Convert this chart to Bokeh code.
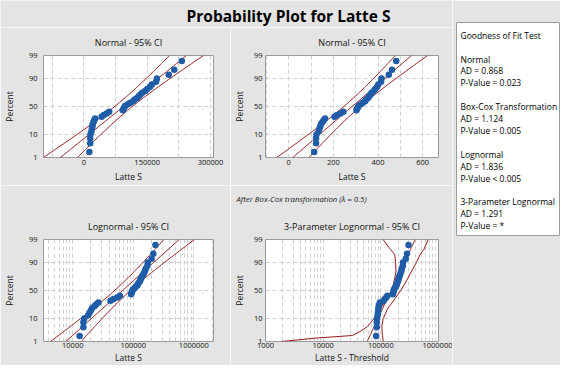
import numpy as np
from statistics import NormalDist
from bokeh.plotting import figure
from bokeh.layouts import row, column
from bokeh.models import FixedTicker, NumeralTickFormatter, Range1d, Title
from bokeh.core.properties import value
from bokeh.embed import file_html
from bokeh.resources import INLINE

# ---------------- data ----------------
latte_s = [13000, 15000, 15000, 15500, 18000, 19000, 20000, 21000, 23000, 24500, 26500,
           42000, 47000, 54000, 60000, 92000, 94000, 96000, 98000,
           104000, 110000, 117000, 120000, 126000, 130000, 134000, 138000, 145000,
           150000, 157000, 161000, 171000, 173000, 201000, 214000, 232000]
boxcox_lambda = 0.5
threshold = -70000.0

percent_ticks = [1, 10, 50, 90, 99]
percent_grid = [10, 50, 90]
x1_ticks = [0, 150000, 300000]
x1_grid = [-75000, 0, 75000, 150000, 225000, 300000]
x2_ticks = [0, 200, 400, 600]
x2_grid = [-100, 0, 100, 200, 300, 400, 500, 600]
log_ticks = [1000, 10000, 100000, 1000000]

# 3-parameter lognormal 95% CI (Latte S - Threshold)
ci_pct = [1, 1.5, 2, 3, 5, 10, 20, 30, 50, 70, 80, 90, 95, 97, 99]
lognorm3_lower = [1900, 7500, 32000, 43000, 58700, 76000, 96000, 120000,
                  157000, 173000, 183000, 180000, 174000, 146000, 109000]
lognorm3_upper = [109800, 108300, 106900, 105500, 104100, 109800, 130500, 159400,
                  222300, 290000, 335700, 415400, 481000, 560000, 662000]

gof_lines = ["Goodness of Fit Test", "",
             "Normal", "AD = 0.868", "P-Value = 0.023", "",
             "Box-Cox Transformation", "AD = 1.124", "P-Value = 0.005", "",
             "Lognormal", "AD = 1.836", "P-Value < 0.005", "",
             "3-Parameter Lognormal", "AD = 1.291", "P-Value = *"]

main_title = "Probability Plot for Latte S"
boxcox_note = "After Box-Cox transformation (\u03bb = 0.5)"

# ---------------- styles ----------------
BG = "#e4e4e4"
BLUE = "#1f5ca8"
RED = "#951b1b"
GRID = "#cfcfcf"
FRAME = "#9a9a9a"
FONT = "Open Sans"
TXT = "#111111"

ND = NormalDist()
def zq(pct):
    return ND.inv_cdf(pct / 100.0)

Z_LO, Z_HI = zq(1), zq(99)
EPS = 1e-9
Z975 = ND.inv_cdf(0.975)

data = np.sort(np.array(latte_s, dtype=float))
n = len(data)
z_pts = np.array([ND.inv_cdf((i - 0.3) / (n + 0.4)) for i in range(1, n + 1)])
z_line = np.linspace(Z_LO, Z_HI, 90)


def normal_band(t):
    m, s = t.mean(), t.std()
    c = m + z_line * s
    h = Z975 * s * np.sqrt((1 + z_line ** 2 / 2) / n)
    return c - h, c, c + h


def style_title(t, size="9px", standoff=13):
    t.align = "center"
    t.text_font = FONT
    t.text_font_size = size
    t.text_font_style = "normal"
    t.text_color = TXT
    t.standoff = standoff


def panel(title, w, h, bl, br, bt, bb, xr, xtype="linear", ylab_gap=6, ylab_standoff=11,
          xlab_gap=2, xlab_standoff=3):
    p = figure(width=w, height=h, x_range=xr, y_range=Range1d(Z_LO - EPS, Z_HI + EPS),
               x_axis_type=xtype, output_backend="svg", toolbar_location=None,
               min_border_left=bl, min_border_right=br, min_border_top=bt,
               min_border_bottom=bb)
    if title:
        p.title.text = title
        style_title(p.title)
    p.background_fill_color = "white"
    p.border_fill_color = BG
    p.outline_line_color = FRAME
    p.outline_line_width = 1
    for ax in p.axis:
        ax.axis_line_color = None
        ax.major_tick_line_color = None
        ax.minor_tick_line_color = None
        ax.major_tick_out = 0
        ax.major_tick_in = 0
        ax.minor_tick_out = 0
        ax.minor_tick_in = 0
        ax.major_label_text_font = FONT
        ax.major_label_text_font_size = "7.5px"
        ax.major_label_text_color = TXT
        ax.axis_label_text_font = FONT
        ax.axis_label_text_font_size = "8.5px"
        ax.axis_label_text_font_style = "normal"
        ax.axis_label_text_color = TXT
    p.xaxis.major_label_standoff = xlab_gap
    p.xaxis.axis_label_standoff = xlab_standoff
    p.yaxis.major_label_standoff = ylab_gap
    p.yaxis.axis_label_standoff = ylab_standoff
    p.yaxis.ticker = FixedTicker(ticks=[zq(v) for v in percent_ticks])
    p.yaxis.major_label_overrides = {zq(v): str(v) for v in percent_ticks}
    p.yaxis.axis_label = "Percent"
    p.ygrid.ticker = FixedTicker(ticks=[zq(v) for v in percent_grid])
    p.grid.grid_line_color = GRID
    p.grid.grid_line_dash = "4 3"
    p.grid.grid_line_width = 1
    p.xaxis.formatter = NumeralTickFormatter(format="0")
    return p


def draw(p, lo, c, hi, xs):
    for arr in (lo, c, hi):
        p.line(arr, z_line, line_color=RED, line_width=1)
    p.scatter(xs, z_pts, size=6.5, fill_color=BLUE, line_color=None)


log_grid = [k * 10 ** e for e in range(3, 7) for k in range(1, 10)]

# Panel 1: Normal
p1 = panel("Normal - 95% CI", 230, 158, 43, 17, 28, 28, Range1d(-95700, 307000))
p1.xaxis.ticker = FixedTicker(ticks=x1_ticks)
p1.xgrid.ticker = FixedTicker(ticks=x1_grid)
p1.xaxis.axis_label = "Latte S"
draw(p1, *normal_band(data), data)

# Panel 2: Box-Cox (lambda = 0.5)
bc = data ** boxcox_lambda
p2 = panel("Normal - 95% CI", 222, 158, 34, 14, 28, 28, Range1d(-104, 671),
           ylab_gap=3, ylab_standoff=6)
p2.xaxis.ticker = FixedTicker(ticks=x2_ticks)
p2.xgrid.ticker = FixedTicker(ticks=x2_grid)
p2.xaxis.axis_label = "Latte S"
draw(p2, *normal_band(bc), bc)

# Panel 3: Lognormal
lo3, c3, hi3 = normal_band(np.log(data))
p3 = panel("Lognormal - 95% CI", 230, 180, 43, 17, 47, 24, Range1d(3290, 2.11e6), "log",
           xlab_gap=1, xlab_standoff=1)
p3.xaxis.ticker = FixedTicker(ticks=log_ticks)
p3.xgrid.ticker = FixedTicker(ticks=log_grid)
p3.xaxis.axis_label = "Latte S"
p3.title.standoff = 14
draw(p3, np.exp(lo3), np.exp(c3), np.exp(hi3), data)

# Panel 4: 3-parameter lognormal (outer title = Box-Cox note, inner = panel title)
shifted = data - threshold
t4 = np.log(shifted)
c4 = np.exp(t4.mean() + z_line * t4.std())
z_ci = np.array([zq(v) for v in ci_pct])
p4 = panel(None, 222, 180, 35, 14, 47, 24, Range1d(1000, 1e6), "log",
           ylab_gap=3, ylab_standoff=6, xlab_gap=1, xlab_standoff=1)
p4.title.text = boxcox_note
p4.title.align = "left"
p4.title.offset = -29
p4.title.text_font = FONT
p4.title.text_font_size = "7.8px"
p4.title.text_font_style = "italic"
p4.title.text_color = "#222222"
p4.title.standoff = 13
t_in = Title(text="3-Parameter Lognormal - 95% CI")
style_title(t_in, standoff=14)
p4.add_layout(t_in, "above")
p4.xaxis.ticker = FixedTicker(ticks=log_ticks)
p4.xgrid.ticker = FixedTicker(ticks=log_grid)
p4.xaxis.axis_label = "Latte S - Threshold"
p4.line(lognorm3_lower, z_ci, line_color=RED, line_width=1)
p4.line(c4, z_line, line_color=RED, line_width=1)
p4.line(lognorm3_upper, z_ci, line_color=RED, line_width=1)
p4.scatter(shifted, z_pts, size=6.5, fill_color=BLUE, line_color=None)

# Title strip
pt = figure(width=452, height=27, x_range=Range1d(0, 452), y_range=Range1d(27, 0),
            min_border=0, x_axis_location=None, y_axis_location=None, title=None,
            output_backend="svg", toolbar_location=None)
pt.grid.visible = False
pt.outline_line_color = None
pt.background_fill_color = BG
pt.border_fill_color = BG
pt.text(x=[288], y=[15], text=[main_title], text_font=value(FONT), text_font_size="15.5px",
        text_font_style="bold", text_align="center", text_baseline="middle", text_color="black")

# Goodness of fit box
pg = figure(width=108, height=365, x_range=Range1d(0, 103), y_range=Range1d(213, 0),
            min_border_left=4, min_border_right=1, min_border_top=22, min_border_bottom=130,
            x_axis_location=None, y_axis_location=None, title=None,
            output_backend="svg", toolbar_location=None)
pg.grid.visible = False
pg.background_fill_color = "white"
pg.border_fill_color = BG
pg.outline_line_color = FRAME
pg.text(x=[4] * len(gof_lines), y=[12.7 + 11.9 * i for i in range(len(gof_lines))],
        text=gof_lines, text_font=value(FONT), text_font_size="8.5px",
        text_align="left", text_baseline="middle", text_color="black")

layout = row(column(pt, row(p1, p2), row(p3, p4)), pg)
open("out.html", "w").write(file_html(layout, INLINE))
